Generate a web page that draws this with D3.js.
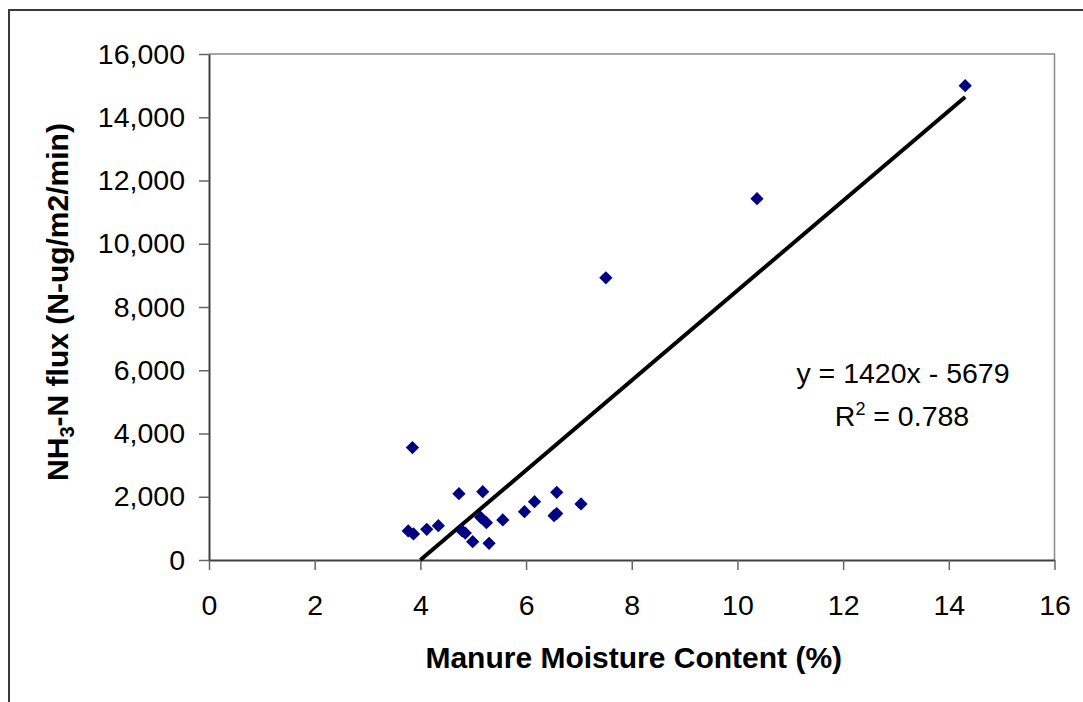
<!DOCTYPE html>
<html>
<head>
<meta charset="utf-8">
<script src="https://cdn.jsdelivr.net/npm/d3@7"></script>
<style>
  body { margin: 0; background: #fff; }
  text { font-family: "Liberation Sans", Arial, sans-serif; fill: #000; }
</style>
</head>
<body>
<div id="canvas"></div>
<script>
// data
var moisture = [3.77, 3.87, 3.85, 4.12, 4.34, 4.73, 4.79, 4.85, 4.99, 5.14, 5.18, 5.25,
                5.30, 5.56, 5.97, 6.16, 6.53, 6.58, 6.58, 7.04, 7.51, 10.37, 14.31];
var flux = [918, 823, 3554, 971, 1085, 2098, 920, 850, 580, 1350, 2162, 1180,
            528, 1266, 1529, 1845, 1400, 1470, 2142, 1772, 8924, 11424, 15000];
var xTicks = [0, 2, 4, 6, 8, 10, 12, 14, 16];
var yTicks = [0, 2000, 4000, 6000, 8000, 10000, 12000, 14000, 16000];
var slope = 1420, intercept = -5679, r2 = 0.788;

var W = 1083, H = 702;
var m = {t: 54, r: 28.5, b: 142, l: 209};

var svg = d3.select('#canvas')
    .append('svg')
    .attr('width', W)
    .attr('height', H);

svg.append('rect').attr('width', W).attr('height', H).attr('fill', '#fff');

// outer chart frame (runs off the right and bottom)
svg.append('path')
    .attr('d', 'M9,' + H + 'V10H' + W)
    .attr('fill', 'none')
    .attr('stroke', '#3a3a3a')
    .attr('stroke-width', 2);

var scaleX = d3.scaleLinear()
    .domain([0, 16])
    .range([m.l, W - m.r]);
var scaleY = d3.scaleLinear()
    .domain([0, 16000])
    .range([H - m.b, m.t]);

// plot area border (top/right grey)
svg.append('path')
    .attr('d', 'M' + scaleX(0) + ',' + scaleY(16000) + 'H' + scaleX(16) + 'V' + scaleY(0))
    .attr('fill', 'none')
    .attr('stroke', '#888')
    .attr('stroke-width', 1.5);

// Axis
var axisX = d3.axisBottom(scaleX)
    .tickValues(xTicks)
    .tickSize(10)
    .tickSizeOuter(0)
    .tickPadding(25);
var axisY = d3.axisLeft(scaleY)
    .tickValues(yTicks)
    .tickFormat(d3.format(','))
    .tickSize(10)
    .tickSizeOuter(0)
    .tickPadding(14);

var gx = svg.append('g')
    .attr('transform', 'translate(0,' + scaleY(0) + ')')
    .call(axisX);
var gy = svg.append('g')
    .attr('transform', 'translate(' + scaleX(0) + ',0)')
    .call(axisY);

[gx, gy].forEach(function(g){
  g.select('.domain').attr('stroke', '#404040').attr('stroke-width', 2);
  g.selectAll('.tick line').attr('stroke', '#666').attr('stroke-width', 1.5);
  g.selectAll('.tick text')
    .attr('fill', '#000')
    .style('font-size', '28.5px')
    .style('font-family', '"Liberation Sans", Arial, sans-serif');
});

// trend line from the x-intercept to the largest x
var xMax = d3.max(moisture);
var x0 = -intercept / slope;
svg.append('line')
    .attr('x1', scaleX(x0))
    .attr('y1', scaleY(slope * x0 + intercept))
    .attr('x2', scaleX(xMax))
    .attr('y2', scaleY(slope * xMax + intercept))
    .attr('stroke', '#000')
    .attr('stroke-width', 4);

// points (diamonds)
var diamond = d3.symbol().type(d3.symbolSquare).size(88);
svg.append('g')
    .selectAll('path')
    .data(moisture.map(function(d, i){ return {x: d, y: flux[i]}; }))
    .enter()
    .append('path')
    .attr('d', diamond)
    .attr('transform', function(d){
      return 'translate(' + scaleX(d.x) + ',' + scaleY(d.y) + ') rotate(45)';
    })
    .attr('fill', '#000080');

// equation
svg.append('text')
    .attr('x', 903).attr('y', 383)
    .attr('text-anchor', 'middle')
    .style('font-size', '28.5px')
    .text('y = ' + slope + 'x - ' + Math.abs(intercept));
var rt = svg.append('text')
    .attr('x', 902).attr('y', 426)
    .attr('text-anchor', 'middle')
    .style('font-size', '28.5px');
rt.append('tspan').text('R');
rt.append('tspan').attr('dy', -11).style('font-size', '18px').text('2');
rt.append('tspan').attr('dy', 11).text(' = ' + r2);

// axis titles
svg.append('text')
    .attr('x', (scaleX(0) + scaleX(16)) / 2 + 2)
    .attr('y', 668)
    .attr('text-anchor', 'middle')
    .style('font-size', '30px')
    .style('font-weight', 'bold')
    .text('Manure Moisture Content (%)');

var yt = svg.append('text')
    .attr('transform', 'translate(68,302) rotate(-90)')
    .attr('text-anchor', 'middle')
    .style('font-size', '30px')
    .style('font-weight', 'bold');
yt.append('tspan').text('NH');
yt.append('tspan').attr('dy', 6).style('font-size', '20px').text('3');
yt.append('tspan').attr('dy', -6).text('-N flux (N-ug/m2/min)');
</script>
</body>
</html>
